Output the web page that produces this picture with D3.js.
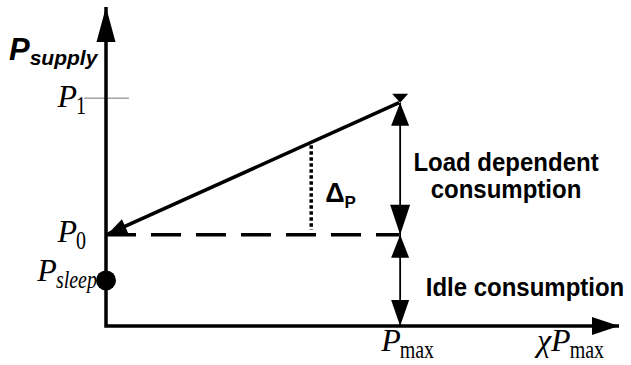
<!DOCTYPE html>
<html>
<head>
<meta charset="utf-8">
<script src="https://cdn.jsdelivr.net/npm/d3@7"></script>
<style>
  body { margin: 0; background: #fff; }
  svg { display: block; }
  .math { font-family: "Liberation Serif", "Times New Roman", serif; font-style: italic; }
  .note { font-family: "Liberation Sans", Arial, sans-serif; font-weight: bold; }
</style>
</head>
<body>
<div id="chart"></div>
<script>
// schematic power model: load fraction on x, supply power on y (P0 = 1)
const xMaxLoad = 1.75       // where the x axis arrow ends (chi * Pmax)
const yMaxPower = 3.5       // where the y axis arrow ends
const P1 = 2.5
const P0 = 1
const Psleep = 0.5
const Pmax = 1
const lineTop = 2.45        // where the load line meets the Pmax arrow
const deltaX = 0.7          // position of the dotted delta marker

const loadLine = [[Pmax, lineTop], [0, P0]]
const idleDash = [[0, P0], [Pmax, P0]]

const yLabels = [
  { base: "P", sub: "1", value: P1 },
  { base: "P", sub: "0", value: P0 },
  { base: "P", sub: "sleep", value: Psleep }
]
const xLabels = [
  { base: "P", sub: "max", value: Pmax, pre: "" },
  { base: "P", sub: "max", value: xMaxLoad, pre: "\u03c7" }
]
const notes = [
  { lines: ["Load dependent", "consumption"], from: P0, to: lineTop },
  { lines: ["Idle consumption"], from: 0, to: P0 }
]

drawChart()

function drawChart() {
  const width = 631, height = 365

  const svg = d3.select("#chart").append("svg")
    .attr("width", width)
    .attr("height", height)

  const x = d3.scaleLinear().domain([0, xMaxLoad]).range([106, 619])
  const y = d3.scaleLinear().domain([0, yMaxPower]).range([326, 7])

  const line = d3.line().x(d => x(d[0])).y(d => y(d[1]))

  // triangle with its tip at (px, py), pointing in direction dir (radians), len long, half width w
  function arrowHead(px, py, dir, len, w) {
    const bx = px - Math.cos(dir) * len, by = py - Math.sin(dir) * len
    const nx = -Math.sin(dir) * w, ny = Math.cos(dir) * w
    svg.append("path")
      .attr("d", `M${px},${py}L${bx + nx},${by + ny}L${bx - nx},${by - ny}Z`)
      .attr("fill", "#000")
  }

  // P1 tick
  svg.append("line")
    .attr("x1", x(0) - 22).attr("x2", x(0) + 23)
    .attr("y1", y(P1)).attr("y2", y(P1))
    .attr("stroke", "#777").attr("stroke-width", 1)

  // axes
  svg.append("path")
    .attr("d", line([[0, yMaxPower], [0, 0], [xMaxLoad, 0]]))
    .attr("fill", "none").attr("stroke", "#000").attr("stroke-width", 3.5)
  arrowHead(x(0), y(yMaxPower), -Math.PI / 2, 35, 9.5)
  arrowHead(x(xMaxLoad), y(0), 0, 27, 9)

  // idle level, dashed
  svg.append("path")
    .attr("d", line(idleDash))
    .attr("fill", "none").attr("stroke", "#000").attr("stroke-width", 3.5)
    .attr("stroke-dasharray", "30,15")

  // load line with arrow at P0
  svg.append("path")
    .attr("d", line(loadLine))
    .attr("fill", "none").attr("stroke", "#000").attr("stroke-width", 3.5)
  const ang = Math.atan2(y(P0) - y(lineTop), x(0) - x(Pmax))
  arrowHead(x(0) + 1, y(P0), ang, 20, 8)

  // dotted delta marker
  const yOnLine = P0 + (lineTop - P0) * deltaX / Pmax
  svg.append("line")
    .attr("x1", x(deltaX)).attr("x2", x(deltaX))
    .attr("y1", y(yOnLine) + 3).attr("y2", y(P0) - 5)
    .attr("stroke", "#000").attr("stroke-width", 3.5)
    .attr("stroke-dasharray", "3.5,2.5")

  // double arrows at Pmax
  const ax = x(Pmax) + 1
  svg.append("line")
    .attr("x1", ax).attr("x2", ax).attr("y1", y(lineTop)).attr("y2", y(0))
    .attr("stroke", "#000").attr("stroke-width", 1.8)
  arrowHead(ax, y(lineTop), -Math.PI / 2, 23, 9)
  arrowHead(ax, y(lineTop), Math.PI / 2, 9, 8)
  arrowHead(ax, y(P0), Math.PI / 2, 30, 10)
  arrowHead(ax, y(P0), -Math.PI / 2, 23, 9)
  arrowHead(ax, y(0), Math.PI / 2, 26, 9)

  // sleep dot
  svg.append("circle")
    .attr("cx", x(0)).attr("cy", y(Psleep)).attr("r", 10)
    .attr("fill", "#000")

  // P_supply title
  const title = svg.append("text").attr("class", "note")
    .attr("x", 9).attr("y", 60).style("font-style", "italic")
  title.append("tspan").attr("font-size", 31).text("P")
  title.append("tspan").attr("font-size", 21).attr("dy", 5).text("supply")

  // math labels: base letter plus vertically stretched subscript
  function mathLabel(px, py, lab, anchorRight) {
    const g = svg.append("g").attr("class", "math")
    const base = g.append("text").attr("font-size", 32).attr("y", 0)
      .text(lab.pre + lab.base)
    const bw = base.node().getComputedTextLength()
    const sub = g.append("text")
      .attr("transform", `translate(${bw - 1},${7}) scale(1,1.25)`)
      .attr("font-size", 20)
      .style("font-style", /^\d+$/.test(lab.sub) || lab.sub === "max" ? "normal" : "italic")
      .text(lab.sub)
    const sw = sub.node().getComputedTextLength()
    const left = anchorRight ? px - (bw - 1 + sw) : px
    g.attr("transform", `translate(${left},${py})`)
  }

  // right edges and baselines of the y labels, as in the figure
  const yLabelRight = [86, 86, 97]
  const yLabelShift = [9, 7, 1]
  yLabels.forEach((l, i) => mathLabel(yLabelRight[i], y(l.value) + yLabelShift[i], Object.assign({ pre: "" }, l), true))
  xLabels.forEach(l => mathLabel(x(l.value) - (l.pre ? 82 : 18), 351, l, false))

  // delta label
  const dl = svg.append("text").attr("class", "note")
    .attr("x", x(deltaX) + 14).attr("y", 202)
  dl.append("tspan").attr("font-size", 27).text("\u0394")
  dl.append("tspan").attr("font-size", 17).attr("dy", 6).text("P")

  // consumption notes
  notes.forEach(n => {
    const mid = (y(n.from) + y(n.to)) / 2
    n.lines.forEach((s, i) => {
      const cx = n.lines.length > 1 ? 506 : 525
      const by = mid + 16 + (i - (n.lines.length - 1) / 2) * 27
      svg.append("text").attr("class", "note")
        .attr("font-size", 24).attr("text-anchor", "middle")
        .attr("transform", `translate(${cx},${by}) scale(1,1.05)`)
        .text(s)
    })
  })
}
</script>
</body>
</html>
